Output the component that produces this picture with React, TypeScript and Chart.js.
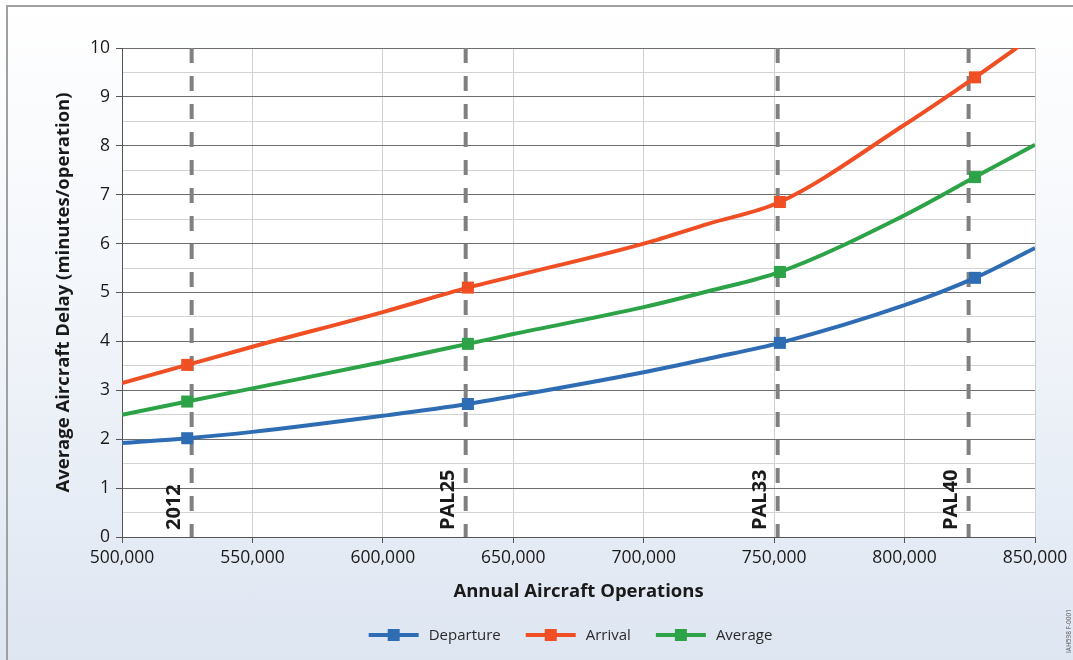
import React, { useEffect, useRef } from 'react';
import { Chart, registerables } from 'chart.js';

Chart.register(...registerables);

// ---- data ----
const operations = [500000, 525000, 550000, 600000, 632600, 650000, 700000, 725000, 752200, 800000, 827000, 850000];
const departure = [1.92, 2.02, 2.15, 2.48, 2.72, 2.88, 3.37, 3.65, 3.97, 4.74, 5.30, 5.91];
const arrival = [3.15, 3.52, 3.89, 4.60, 5.10, 5.33, 6.00, 6.41, 6.85, 8.43, 9.40, 10.27];
const average = [2.50, 2.77, 3.04, 3.58, 3.95, 4.15, 4.70, 5.03, 5.42, 6.58, 7.36, 8.02];
const markerOps = [525000, 632600, 752200, 827000];
const scenarioLabels = ['2012', 'PAL25', 'PAL33', 'PAL40'];
const scenarioOps = [526700, 631750, 751350, 824550];
const seriesNames = ['Departure', 'Arrival', 'Average'];
const seriesColors = ['#2e6db4', '#f04e23', '#2ca347'];
const xTitle = 'Annual Aircraft Operations';
const yTitle = 'Average Aircraft Delay (minutes/operation)';
const watermark = 'IAH598 F-0001';

const FONT = '"Open Sans", "Noto Sans", sans-serif';

export default function App() {
  const canvasRef = useRef<HTMLCanvasElement | null>(null);

  useEffect(() => {
    const canvas = canvasRef.current;
    if (!canvas) return;
    document.body.style.overflow = 'hidden';

    const seriesValues = [departure, arrival, average];
    const seriesDatasets = seriesValues.map((vals, i) => ({
      type: 'line' as const,
      label: seriesNames[i],
      data: operations.map((x, j) => ({ x, y: vals[j] })),
      borderColor: seriesColors[i],
      backgroundColor: seriesColors[i],
      borderWidth: 4,
      pointStyle: 'rect' as const,
      pointRadius: operations.map((x) => (markerOps.includes(x) ? 8.5 : 0)),
      pointHoverRadius: operations.map((x) => (markerOps.includes(x) ? 8.5 : 0)),
      pointBorderWidth: 0,
      cubicInterpolationMode: 'monotone' as const,
      order: 1,
    }));
    const dashedDatasets = scenarioOps.map((x, i) => ({
      type: 'line' as const,
      label: scenarioLabels[i],
      data: [
        { x, y: 10 },
        { x, y: 0 },
      ],
      borderColor: '#808080',
      borderWidth: 4,
      borderDash: [15, 13],
      pointRadius: 0,
      pointHoverRadius: 0,
      order: 2,
    }));

    const decor = {
      id: 'decor',
      beforeDraw(chart: any) {
        const { ctx, chartArea } = chart;
        ctx.save();
        ctx.fillStyle = '#ffffff';
        ctx.fillRect(chartArea.left, chartArea.top, chartArea.right - chartArea.left, chartArea.bottom - chartArea.top);
        ctx.restore();
      },
      afterDraw(chart: any) {
        const { ctx, chartArea, scales } = chart;
        const xs = scales.x;
        const ys = scales.y;
        // scenario labels
        ctx.save();
        ctx.font = `bold 20px ${FONT}`;
        ctx.fillStyle = '#1a1a1a';
        ctx.textAlign = 'left';
        ctx.textBaseline = 'middle';
        scenarioOps.forEach((op, i) => {
          const px = xs.getPixelForValue(op) - 17;
          const py = ys.getPixelForValue(0) - 7;
          ctx.save();
          ctx.translate(px, py);
          ctx.rotate(-Math.PI / 2);
          ctx.fillText(scenarioLabels[i], 0, 0);
          ctx.restore();
        });
        ctx.restore();

        // legend
        ctx.save();
        ctx.font = `15px ${FONT}`;
        ctx.textBaseline = 'middle';
        ctx.textAlign = 'left';
        const lineLen = 50;
        const gapText = 10;
        const itemGap = 25;
        const widths = seriesNames.map((n) => lineLen + gapText + ctx.measureText(n).width);
        const total = widths.reduce((a, b) => a + b, 0) + itemGap * (widths.length - 1);
        let lx = (chartArea.left + chartArea.right) / 2 - 8 - total / 2;
        const ly = 635;
        seriesNames.forEach((n, i) => {
          ctx.strokeStyle = seriesColors[i];
          ctx.lineWidth = 4;
          ctx.beginPath();
          ctx.moveTo(lx, ly);
          ctx.lineTo(lx + lineLen, ly);
          ctx.stroke();
          ctx.fillStyle = seriesColors[i];
          ctx.fillRect(lx + lineLen / 2 - 6, ly - 6, 12, 12);
          ctx.fillStyle = '#2a2a2a';
          ctx.fillText(n, lx + lineLen + gapText, ly + 1);
          lx += widths[i] + itemGap;
        });
        ctx.restore();

        // watermark
        ctx.save();
        ctx.font = `6.5px ${FONT}`;
        ctx.fillStyle = '#555555';
        ctx.textAlign = 'left';
        ctx.textBaseline = 'middle';
        ctx.translate(1069.5, 653);
        ctx.rotate(-Math.PI / 2);
        ctx.fillText(watermark, 0, 0);
        ctx.restore();
      },
    };

    const chart = new Chart(canvas, {
      type: 'line',
      data: { datasets: [...seriesDatasets, ...dashedDatasets] as any },
      options: {
        animation: false,
        responsive: true,
        maintainAspectRatio: false,
        layout: { padding: { top: 48, right: 38, bottom: 53, left: 0 } },
        plugins: {
          legend: { display: false },
          tooltip: { enabled: false },
        },
        scales: {
          x: {
            type: 'linear',
            min: 500000,
            max: 850000,
            border: { color: '#555555', width: 1 },
            grid: {
              color: (c: any) => (c.index === 0 ? '#555555' : '#d0d0d0'),
              tickColor: '#555555',
              tickLength: 6,
            },
            ticks: {
              stepSize: 50000,
              autoSkip: false,
              maxRotation: 0,
              padding: 5,
              color: '#1a1a1a',
              font: { family: FONT, size: 17.5 },
              callback: (v: any) => Number(v).toLocaleString('en-US'),
            },
            title: {
              display: true,
              text: xTitle,
              color: '#1a1a1a',
              font: { family: FONT, size: 18.5, weight: 'bold' },
              padding: { top: 0, bottom: 3.9 },
            },
            afterFit: (s: any) => {
              s.height = 70;
            },
          },
          y: {
            type: 'linear',
            min: 0,
            max: 10,
            border: { color: '#555555', width: 1 },
            grid: {
              color: (c: any) => (c.tick && Number.isInteger(c.tick.value) ? '#6e6e6e' : '#d3d3d3'),
              tickColor: (c: any) => (c.tick && Number.isInteger(c.tick.value) ? '#555555' : 'rgba(0,0,0,0)'),
              tickLength: 6,
            },
            ticks: {
              stepSize: 0.5,
              autoSkip: false,
              padding: 6,
              color: '#1a1a1a',
              font: { family: FONT, size: 17.5 },
              callback: (v: any) => (Number.isInteger(Number(v)) ? String(v) : ''),
            },
            title: {
              display: true,
              text: yTitle,
              color: '#1a1a1a',
              font: { family: FONT, size: 18.5, weight: 'bold' },
              padding: { top: 52.9, bottom: 0 },
            },
            afterFit: (s: any) => {
              s.width = 122;
            },
          },
        },
      },
      plugins: [decor],
    });

    return () => {
      chart.destroy();
    };
  }, []);

  return (
    <div
      style={{
        position: 'fixed',
        left: 0,
        top: 0,
        width: 1073,
        height: 660,
        background: 'linear-gradient(to bottom, #ffffff 0%, #f4f7fb 40%, #dee6f2 100%)',
      }}
    >
      <div
        style={{
          position: 'absolute',
          left: 6,
          top: 5,
          right: 0,
          bottom: 0,
          borderTop: '2px solid #a0a0a0',
          borderLeft: '2px solid #a0a0a0',
          pointerEvents: 'none',
        }}
      />
      <canvas ref={canvasRef} style={{ position: 'absolute', left: 0, top: 0, width: 1073, height: 660 }} />
    </div>
  );
}
